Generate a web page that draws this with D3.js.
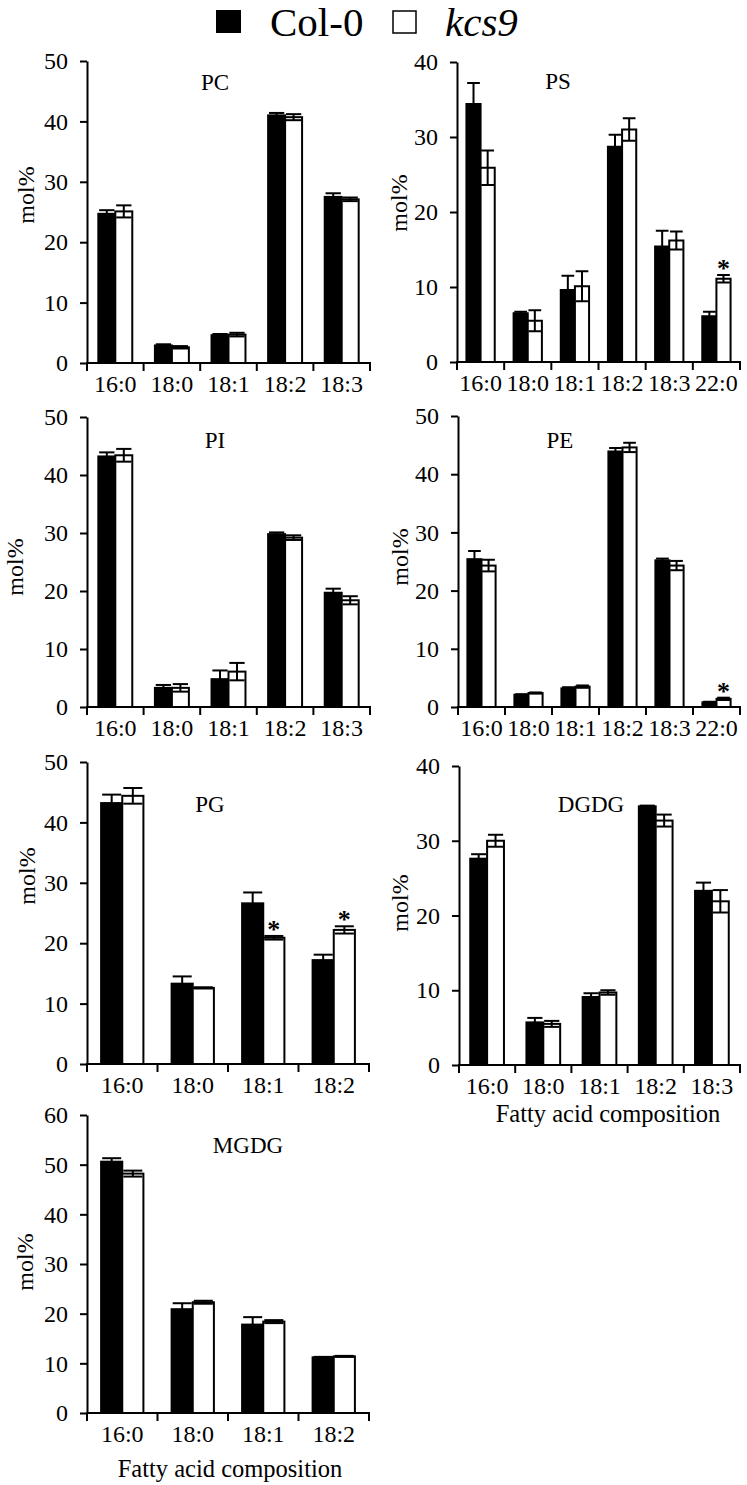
<!DOCTYPE html>
<html>
<head>
<meta charset="utf-8">
<script src="https://cdn.jsdelivr.net/npm/d3@7"></script>
<style>
  html, body { margin: 0; padding: 0; background: #fff; }
  svg { display: block; }
</style>
</head>
<body>
<svg id="chart" width="747" height="1485"></svg>
<script>
// ─── Data ──────────────────────────────────────────────────────────
const cats5 = ["16:0", "18:0", "18:1", "18:2", "18:3"];
const cats6 = ["16:0", "18:0", "18:1", "18:2", "18:3", "22:0"];
const cats4 = ["16:0", "18:0", "18:1", "18:2"];

const pcCol = [24.7, 2.9, 4.6, 41.0, 27.5];
const pcColErr = [0.6, 0.2, 0.2, 0.4, 0.6];
const pcKcs = [25.1, 2.6, 4.7, 40.7, 27.1];
const pcKcsErr = [1.0, 0.2, 0.3, 0.5, 0.3];

const psCol = [34.4, 6.5, 9.6, 28.7, 15.4, 6.1];
const psColErr = [2.8, 0.2, 1.9, 1.6, 2.1, 0.6];
const psKcs = [25.9, 5.5, 10.1, 31.0, 16.2, 11.1];
const psKcsErr = [2.3, 1.4, 2.0, 1.5, 1.2, 0.5];
const psSig = [0, 0, 0, 0, 0, 1];

const piCol = [43.2, 3.3, 4.8, 29.8, 19.7];
const piColErr = [0.7, 0.5, 1.5, 0.3, 0.7];
const piKcs = [43.4, 3.3, 6.1, 29.2, 18.4];
const piKcsErr = [1.1, 0.65, 1.5, 0.4, 0.7];

const peCol = [25.4, 2.1, 3.2, 43.9, 25.2, 0.8];
const peColErr = [1.4, 0.1, 0.2, 0.6, 0.3, 0.1];
const peKcs = [24.3, 2.4, 3.5, 44.6, 24.3, 1.4];
const peKcsErr = [1.0, 0.1, 0.2, 0.8, 0.8, 0.2];
const peSig = [0, 0, 0, 0, 0, 1];

const pgCol = [43.2, 13.3, 26.6, 17.2];
const pgColErr = [1.4, 1.2, 1.8, 0.9];
const pgKcs = [44.4, 12.6, 20.9, 22.2];
const pgKcsErr = [1.3, 0.1, 0.3, 0.6];
const pgSig = [0, 0, 1, 1];

const dgdgCol = [27.6, 5.7, 9.1, 34.6, 23.3];
const dgdgColErr = [0.6, 0.6, 0.5, 0.1, 1.1];
const dgdgKcs = [30.0, 5.5, 9.7, 32.7, 21.9];
const dgdgKcsErr = [0.8, 0.4, 0.3, 0.8, 1.5];

const mgdgCol = [50.6, 20.9, 17.8, 11.2];
const mgdgColErr = [0.7, 1.2, 1.5, 0.1];
const mgdgKcs = [48.2, 22.3, 18.4, 11.4];
const mgdgKcsErr = [0.6, 0.3, 0.3, 0.1];

const seriesNames = ["Col-0", "kcs9"];

// ─── Layout (pixel boxes per panel) ────────────────────────────────
const panels = [
  { title: "PC", cats: cats5, col: pcCol, colErr: pcColErr, kcs: pcKcs, kcsErr: pcKcsErr,
    max: 50, x0: 87, x1: 370, yTop: 61, yBot: 363, titleX: 215, titleY: 90, labX: 34, labY: 195 },
  { title: "PS", cats: cats6, col: psCol, colErr: psColErr, kcs: psKcs, kcsErr: psKcsErr, sig: psSig,
    max: 40, x0: 457, x1: 740, yTop: 62, yBot: 362, titleX: 558, titleY: 89, labX: 407, labY: 203 },
  { title: "PI", cats: cats5, col: piCol, colErr: piColErr, kcs: piKcs, kcsErr: piKcsErr,
    max: 50, x0: 87, x1: 370, yTop: 417, yBot: 707, titleX: 215, titleY: 448, labX: 23, labY: 567 },
  { title: "PE", cats: cats6, col: peCol, colErr: peColErr, kcs: peKcs, kcsErr: peKcsErr, sig: peSig,
    max: 50, x0: 458, x1: 740, yTop: 416, yBot: 707, titleX: 560, titleY: 448, labX: 408, labY: 557 },
  { title: "PG", cats: cats4, col: pgCol, colErr: pgColErr, kcs: pgKcs, kcsErr: pgKcsErr, sig: pgSig,
    max: 50, x0: 87, x1: 369, yTop: 762, yBot: 1064, titleX: 210, titleY: 812, labX: 35, labY: 876 },
  { title: "DGDG", cats: cats5, col: dgdgCol, colErr: dgdgColErr, kcs: dgdgKcs, kcsErr: dgdgKcsErr,
    max: 40, x0: 459, x1: 740, yTop: 766, yBot: 1065, titleX: 591, titleY: 812, labX: 408, labY: 903,
    xTitle: { x: 608, y: 1122 } },
  { title: "MGDG", cats: cats4, col: mgdgCol, colErr: mgdgColErr, kcs: mgdgKcs, kcsErr: mgdgKcsErr,
    max: 60, x0: 87, x1: 369, yTop: 1115, yBot: 1413, titleX: 248, titleY: 1153, labX: 33, labY: 1262,
    xTitle: { x: 230, y: 1477 } },
];

const FONT = "'Liberation Serif', 'Times New Roman', serif";
const svg = d3.select("#chart");

// ─── Legend ────────────────────────────────────────────────────────
const legend = svg.append("g").attr("font-family", FONT).attr("font-size", 41);
legend.append("rect").attr("x", 216).attr("y", 10).attr("width", 25).attr("height", 23).attr("fill", "#000");
legend.append("text").attr("x", 270).attr("y", 36).text(seriesNames[0]);
legend.append("rect").attr("x", 393).attr("y", 11).attr("width", 23).attr("height", 22)
  .attr("fill", "#fff").attr("stroke", "#000").attr("stroke-width", 1.5);
legend.append("text").attr("x", 445).attr("y", 36).attr("font-style", "italic").text(seriesNames[1]);

// ─── Panels ────────────────────────────────────────────────────────
panels.forEach((p) => {
  const g = svg.append("g").attr("font-family", FONT);

  const x = d3.scaleBand().domain(p.cats).range([p.x0, p.x1]).paddingInner(0.4).paddingOuter(0.2);
  const sub = d3.scaleBand().domain(["col", "kcs"]).range([0, x.bandwidth()]);
  const y = d3.scaleLinear().domain([0, p.max]).range([p.yBot, p.yTop]);

  const rows = p.cats.map((c, i) => ({
    cat: c,
    vals: [
      { key: "col", v: p.col[i], e: p.colErr[i], fill: "#000" },
      { key: "kcs", v: p.kcs[i], e: p.kcsErr[i], fill: "#fff" },
    ],
    sig: p.sig ? p.sig[i] : 0,
  }));

  // bars
  const grp = g.selectAll(".grp").data(rows).join("g")
    .attr("transform", (d) => `translate(${x(d.cat)},0)`);

  grp.selectAll("rect").data((d) => d.vals).join("rect")
    .attr("x", (d) => sub(d.key))
    .attr("y", (d) => y(d.v))
    .attr("width", sub.bandwidth())
    .attr("height", (d) => y(0) - y(d.v))
    .attr("fill", (d) => d.fill)
    .attr("stroke", "#000")
    .attr("stroke-width", 2);

  // error bars
  const capW = sub.bandwidth() * 0.9;
  const eb = grp.selectAll(".err").data((d) => d.vals).join("g").attr("class", "err")
    .attr("stroke", "#000").attr("stroke-width", 2);
  eb.append("line")
    .attr("x1", (d) => sub(d.key) + sub.bandwidth() / 2)
    .attr("x2", (d) => sub(d.key) + sub.bandwidth() / 2)
    .attr("y1", (d) => y(d.v - d.e))
    .attr("y2", (d) => y(d.v + d.e));
  [1, -1].forEach((s) => {
    eb.append("line")
      .attr("x1", (d) => sub(d.key) + (sub.bandwidth() - capW) / 2)
      .attr("x2", (d) => sub(d.key) + (sub.bandwidth() + capW) / 2)
      .attr("y1", (d) => y(d.v + s * d.e))
      .attr("y2", (d) => y(d.v + s * d.e));
  });

  // significance stars
  grp.filter((d) => d.sig).append("text")
    .attr("x", sub("kcs") + sub.bandwidth() / 2)
    .attr("y", (d) => y(d.vals[1].v + d.vals[1].e) + 2)
    .attr("text-anchor", "middle")
    .attr("font-size", 26)
    .attr("font-weight", "bold")
    .text("*");

  // y axis
  const yAxis = g.append("g")
    .attr("transform", `translate(${p.x0},0)`)
    .call(d3.axisLeft(y).ticks(p.max / 10).tickSize(7).tickPadding(12).tickSizeOuter(0));
  yAxis.select(".domain").attr("stroke", "#000").attr("stroke-width", 2);
  yAxis.selectAll(".tick line").attr("stroke", "#000").attr("stroke-width", 2);
  yAxis.selectAll(".tick text").attr("font-family", FONT).attr("font-size", 24).attr("fill", "#000");

  // x axis: baseline and ticks at category boundaries
  const bounds = p.cats.map((c) => x(c) - x.step() * x.paddingOuter()).concat([p.x1]);
  g.append("line")
    .attr("x1", p.x0 - 1).attr("x2", p.x1 + 1)
    .attr("y1", y(0)).attr("y2", y(0))
    .attr("stroke", "#000").attr("stroke-width", 2);
  g.selectAll(".xtick").data(bounds).join("line")
    .attr("x1", (d) => d).attr("x2", (d) => d)
    .attr("y1", y(0)).attr("y2", y(0) + 8)
    .attr("stroke", "#000").attr("stroke-width", 2);
  g.selectAll(".xlab").data(p.cats).join("text")
    .attr("x", (d) => x(d) + x.bandwidth() / 2)
    .attr("y", y(0) + 29)
    .attr("text-anchor", "middle")
    .attr("font-size", 24)
    .text((d) => d);

  // title
  g.append("text")
    .attr("x", p.titleX).attr("y", p.titleY)
    .attr("text-anchor", "middle")
    .attr("font-size", 23)
    .text(p.title);

  // y label
  g.append("text")
    .attr("transform", `translate(${p.labX},${p.labY}) rotate(-90)`)
    .attr("text-anchor", "middle")
    .attr("font-size", 24)
    .text("mol%");

  // x title
  if (p.xTitle) {
    g.append("text")
      .attr("x", p.xTitle.x).attr("y", p.xTitle.y)
      .attr("text-anchor", "middle")
      .attr("font-size", 24.5)
      .text("Fatty acid composition");
  }
});
</script>
</body>
</html>
